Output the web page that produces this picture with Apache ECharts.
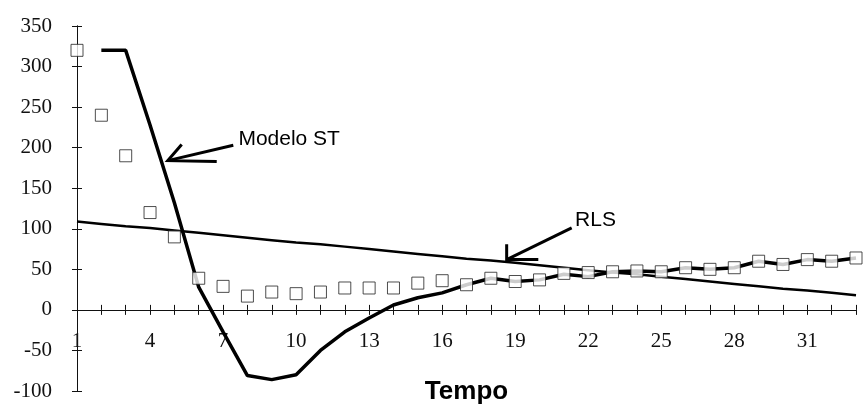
<!DOCTYPE html>
<html>
<head>
<meta charset="utf-8">
<script src="https://cdn.jsdelivr.net/npm/echarts@6/dist/echarts.min.js"></script>
<style>
  html, body { margin: 0; padding: 0; background: #ffffff; }
  #chart { width: 863px; height: 408px; }
</style>
</head>
<body>
<div id="chart"></div>
<script>
// Time steps (x axis categories)
const tempo = ['1','2','3','4','5','6','7','8','9','10','11','12','13','14','15','16','17',
               '18','19','20','21','22','23','24','25','26','27','28','29','30','31','32','33'];

// Observed values (open squares)
const observado = [320, 240, 190, 120, 90, 39, 29, 17, 22, 20, 22, 27, 27, 27, 33, 36, 31,
                   39, 35, 37, 45, 46, 47, 48, 47, 52, 50, 52, 60, 56, 62, 60, 64];

// ST model fit (thick line)
const modeloST = [null, 320, 320, 228, 132, 28, -27, -81, -86, -80, -50, -27, -10, 6, 15, 21, 31,
                  39, 35, 37, 44, 41, 47, 48, 47, 52, 50, 52, 60, 56, 62, 60, 64];

// Simple linear regression fit
const rls = [109, 106, 103, 101, 98, 95, 92, 89, 86, 83, 81, 78, 75, 72, 69, 66, 63,
             61, 58, 55, 52, 49, 46, 44, 41, 38, 35, 32, 29, 26, 24, 21, 18];

// Value axis ticks
const yMin = -100, yMax = 350, yStep = 50;

// Callout anchors in data units: [time, value]
const calloutModelo = {
  label: 'Modelo ST', text: [7.63, 211],
  shaft: [[7.42, 203], [4.73, 184]],
  head: [[5.30, 204], [4.73, 184], [6.74, 183]]
};
const calloutRLS = {
  label: 'RLS', text: [21.46, 110],
  shaft: [[21.32, 101], [18.65, 62]],
  head: [[18.65, 81], [18.65, 62], [19.95, 62]]
};

const serif = '"Liberation Serif", "Times New Roman", serif';
const sans = '"Liberation Sans", Arial, sans-serif';
const ink = '#111111';

const chart = echarts.init(document.getElementById('chart'), null, { renderer: 'canvas' });

const tickLabel = { fontFamily: serif, fontSize: 21, color: ink };

chart.setOption({
  animation: false,
  backgroundColor: '#ffffff',
  grid: { left: 77, right: 7, top: 26, bottom: 17, containLabel: false, outerBoundsMode: 'none' },
  xAxis: [
    {
      type: 'category', data: tempo, boundaryGap: false, position: 'bottom',
      axisLine: { show: true, onZero: true, onZeroAxisIndex: 0, lineStyle: { color: ink, width: 1 } },
      axisTick: { show: true, inside: false, length: 5, interval: 0, lineStyle: { color: ink, width: 1 } },
      // labels sit between the zero line and the bottom of the plot
      axisLabel: Object.assign({ interval: 2, margin: -60 }, tickLabel),
      splitLine: { show: false },
      name: 'Tempo', nameLocation: 'middle', nameGap: -12,
      nameTextStyle: { fontFamily: sans, fontSize: 26, fontWeight: 'bold', color: '#000' }
    },
    {
      type: 'category', data: tempo, boundaryGap: false, position: 'bottom',
      axisLine: { show: true, onZero: true, onZeroAxisIndex: 0, lineStyle: { color: ink, width: 1 } },
      axisTick: { show: true, inside: true, length: 5, interval: 0, lineStyle: { color: ink, width: 1 } },
      axisLabel: { show: false },
      splitLine: { show: false }
    }
  ],
  yAxis: [
    {
      type: 'value', min: yMin, max: yMax, interval: yStep, position: 'left',
      axisLine: { show: true, onZero: false, lineStyle: { color: ink, width: 1 } },
      axisTick: { show: true, inside: false, length: 5, lineStyle: { color: ink, width: 1 } },
      axisLabel: Object.assign({ margin: 25 }, tickLabel),
      splitLine: { show: false }
    },
    {
      type: 'value', min: yMin, max: yMax, interval: yStep, position: 'left',
      axisLine: { show: true, onZero: false, lineStyle: { color: ink, width: 1 } },
      axisTick: { show: true, inside: true, length: 5, lineStyle: { color: ink, width: 1 } },
      axisLabel: { show: false },
      splitLine: { show: false }
    }
  ],
  series: [
    {
      name: 'RLS', type: 'line', data: rls, xAxisIndex: 0, yAxisIndex: 0,
      showSymbol: false, symbol: 'none', z: 2,
      lineStyle: { color: '#000', width: 2.5 }
    },
    {
      name: 'Modelo ST', type: 'line', data: modeloST, xAxisIndex: 0, yAxisIndex: 0,
      showSymbol: false, symbol: 'none', connectNulls: false, z: 3,
      lineStyle: { color: '#000', width: 3.5 }
    },
    {
      name: 'Observado', type: 'scatter', data: observado, xAxisIndex: 0, yAxisIndex: 0,
      symbol: 'rect', symbolSize: 12, z: 4,
      itemStyle: { color: '#ffffff', borderColor: '#222', borderWidth: 1 }
    }
  ]
});

// Map a fractional time position and a value to pixels
function toPixel(pt) {
  const a = chart.convertToPixel({ xAxisIndex: 0 }, 0);
  const b = chart.convertToPixel({ xAxisIndex: 0 }, tempo.length - 1);
  const x = a + (pt[0] - 1) * (b - a) / (tempo.length - 1);
  const y = chart.convertToPixel({ yAxisIndex: 0 }, pt[1]);
  return [x, y];
}

function callout(c) {
  const arrowStyle = { stroke: '#000', lineWidth: 3, fill: null, lineCap: 'butt', lineJoin: 'miter' };
  const t = toPixel(c.text);
  return [
    { type: 'polyline', shape: { points: c.shaft.map(toPixel) }, style: arrowStyle, z: 10 },
    { type: 'polyline', shape: { points: c.head.map(toPixel) }, style: arrowStyle, z: 10 },
    {
      type: 'text', x: t[0], y: t[1], z: 10,
      style: { text: c.label, font: '21px ' + sans, fill: '#000',
               align: 'left', verticalAlign: 'middle', textAlign: 'left', textVerticalAlign: 'middle' }
    }
  ];
}

chart.setOption({ graphic: { elements: callout(calloutModelo).concat(callout(calloutRLS)) } });
</script>
</body>
</html>
